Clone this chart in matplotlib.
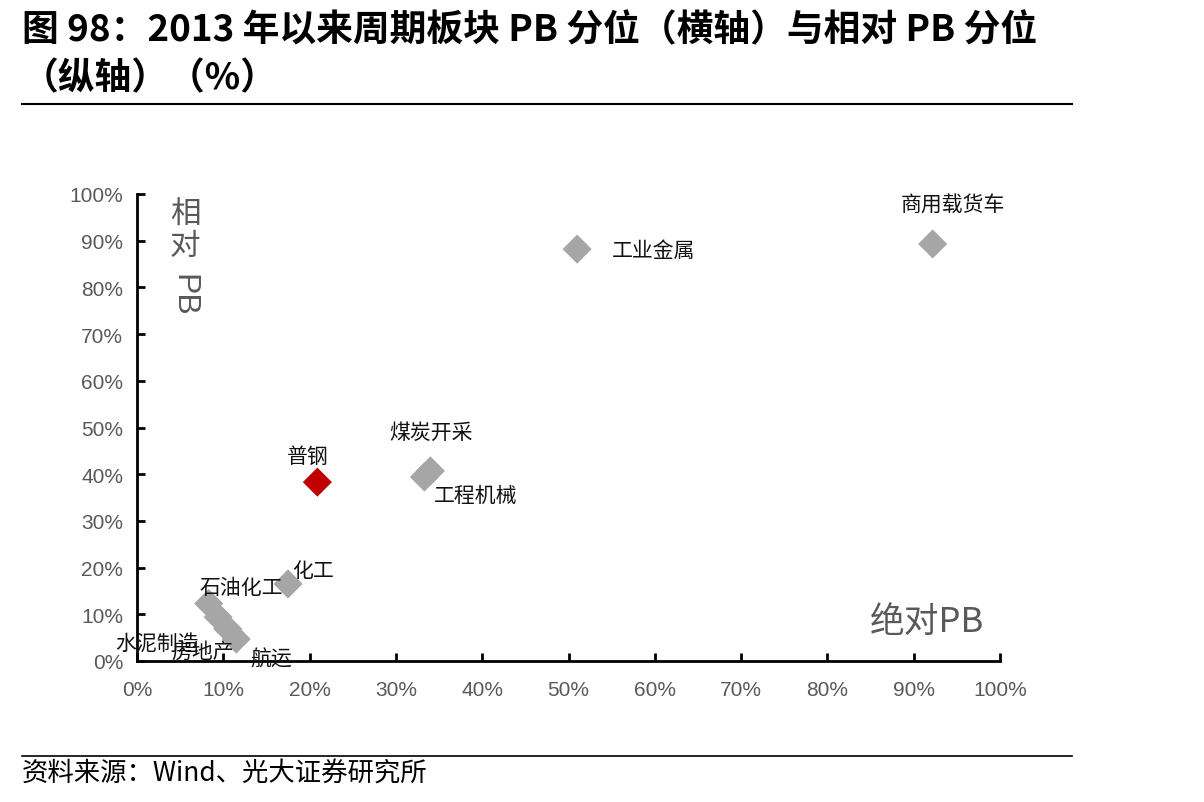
import numpy as np
import matplotlib
matplotlib.use('Agg')
import matplotlib.pyplot as plt
from matplotlib.lines import Line2D

plt.rcParams['font.family'] = ['Noto Sans CJK SC', 'DejaVu Sans']

# data: absolute PB percentile (x) vs relative PB percentile (y), in %
sectors = ['商用载货车', '工业金属', '煤炭开采', '工程机械', '普钢', '化工',
           '石油化工', '水泥制造', '房地产', '航运']
abs_pb = [92.2, 51.0, 34.0, 33.3, 20.9, 17.5, 8.3, 9.4, 10.5, 11.5]
rel_pb = [89.3, 88.2, 40.7, 39.4, 38.3, 16.5, 12.3, 9.4, 6.9, 4.7]
colors = ['#A6A6A6'] * 4 + ['#C00000'] + ['#A6A6A6'] * 5
# label offsets in pixels (dx, dy)
label_offsets = [(-32, 39), (35, -1), (-41, 39), (9, -18), (-30, 26), (4, 14),
                 (-9, 17), (-103, -27), (-56, -22), (14, -20)]
x_ticks = np.arange(0, 101, 10)
y_ticks = np.arange(0, 101, 10)

fig = plt.figure(figsize=(12.04, 8.03), dpi=100)
ax = fig.add_axes([137 / 1204, 1 - 662 / 803, 863 / 1204, 467 / 803])

ax.scatter(abs_pb, rel_pb, marker='D', s=220, c=colors, linewidths=0, zorder=3)
for name, x, y, (dx, dy) in zip(sectors, abs_pb, rel_pb, label_offsets):
    ax.annotate(name, (x, y), xytext=(dx, dy), textcoords='offset pixels',
                fontsize=15, color='#111111', va='center', ha='left', zorder=4)

ax.set_xlim(0, 100)
ax.set_ylim(0, 100)
ax.set_xticks(x_ticks)
ax.set_yticks(y_ticks)
ax.set_xticklabels([f'{v}%' for v in x_ticks], family='Liberation Sans')
ax.set_yticklabels([f'{v}%' for v in y_ticks], family='Liberation Sans')
ax.tick_params(axis='both', direction='in', length=6, width=2, colors='black',
               labelcolor='#595959', labelsize=15)
ax.tick_params(axis='x', pad=14)
ax.tick_params(axis='y', pad=10)
for side in ['top', 'right']:
    ax.spines[side].set_visible(False)
for side in ['left', 'bottom']:
    ax.spines[side].set_linewidth(2)

ax.text(0.0556, 0.99, '相\n对', transform=ax.transAxes, fontsize=22, color='#595959',
        va='top', ha='center', linespacing=1.0)
ax.text(0.0535, 0.83, 'PB', transform=ax.transAxes, fontsize=23, color='#595959',
        family='Liberation Sans', rotation=-90, va='top', ha='center')
ax.text(0.915, 0.0857, '绝对PB', transform=ax.transAxes, fontsize=25, color='#595959',
        va='center', ha='center')

fig.text(22 / 1204, 1 - 31 / 803, '图 98：2013 年以来周期板块 PB 分位（横轴）与相对 PB 分位',
         fontsize=26.5, fontweight='bold', va='center', ha='left')
fig.text(22 / 1204, 1 - 79 / 803, '（纵轴）（%）', fontsize=26.5, fontweight='bold',
         va='center', ha='left')
fig.add_artist(Line2D([22 / 1204, 1072 / 1204], [1 - 105 / 803] * 2, color='black', lw=1.5))
fig.add_artist(Line2D([22 / 1204, 1072 / 1204], [1 - 757 / 803] * 2, color='black', lw=1.2))
fig.text(22 / 1204, 1 - 774 / 803, '资料来源：Wind、光大证券研究所', fontsize=19,
         va='center', ha='left')

fig.savefig('out.png', dpi=100)
